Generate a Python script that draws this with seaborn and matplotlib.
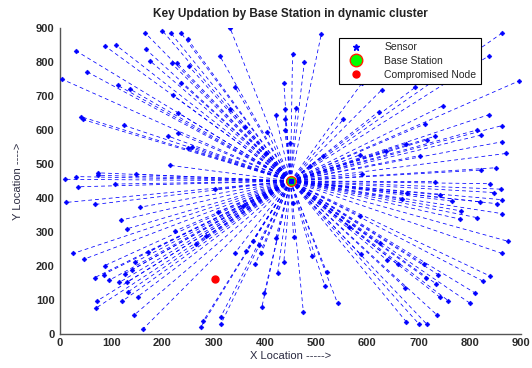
import matplotlib
matplotlib.use("Agg")
import matplotlib.pyplot as plt
from matplotlib.lines import Line2D
import seaborn as sns
import pandas as pd

# ---- data ----
bs_x, bs_y = 450, 450
comp_x, comp_y = 302, 163

sensor_x = [3, 31, 87, 109, 53, 166, 200, 216, 236, 249, 332, 168, 176, 218, 228, 251, 312, 454,
            113, 137, 236, 342, 437, 220, 41, 44, 124, 230, 231, 211, 332, 361, 421, 439, 440, 405,
            439, 449, 258, 249, 402, 215, 75, 75, 31, 148, 10,
            510, 477, 862, 837, 897, 589, 628, 693, 747, 622, 461, 553, 837, 863, 713, 814, 822,
            733, 717, 862, 676, 871, 703, 637, 513, 586, 851, 822, 590, 488,
            36, 107, 12, 68, 156, 119, 130, 225, 286, 265, 309, 303, 358, 26, 47, 171, 87, 146,
            140, 126, 68, 85, 96, 116, 130, 133, 152, 72, 70, 122, 145, 163, 280, 275, 314, 314,
            342, 363, 376, 389, 381, 393, 399, 394, 425, 437, 421, 456, 454,
            732, 840, 861, 848, 863, 854, 819, 742, 765, 667, 677, 783, 781, 815, 863, 874, 863,
            840, 825, 811, 801, 711, 738, 715, 734, 741, 758, 736, 701, 716, 676, 674, 659, 638,
            624, 587, 565, 585, 521, 517, 542, 475, 492]
sensor_y = [750, 833, 848, 850, 771, 886, 892, 886, 886, 868, 900, 837, 803, 796, 798, 789, 818, 825,
            731, 720, 739, 725, 739, 703, 639, 631, 614, 651, 590, 582, 661, 608, 643, 661, 631, 594,
            600, 563, 551, 546, 533, 496, 474, 467, 463, 470, 455,
            881, 800, 884, 818, 745, 737, 718, 725, 671, 654, 666, 631, 645, 613, 618, 600, 585,
            582, 571, 565, 560, 531, 525, 538, 524, 527, 489, 482, 470, 495,
            433, 441, 387, 381, 373, 335, 309, 303, 288, 264, 360, 426, 377, 237, 220, 240, 201, 211,
            188, 177, 166, 175, 158, 152, 152, 124, 110, 97, 76, 97, 56, 16, 39, 21, 51, 29,
            239, 244, 273, 262, 205, 237, 121, 79, 180, 211, 281, 284, 384,
            448, 442, 426, 416, 395, 383, 389, 409, 391, 397, 414, 362, 338, 342, 354, 273, 237,
            170, 156, 120, 90, 205, 175, 164, 148, 109, 98, 56, 29, 29, 36, 136, 205, 218,
            267, 234, 316, 348, 181, 142, 90, 66, 230]

x_ticks = list(range(0, 1000, 100))
y_ticks = list(range(0, 1000, 100))

title = "Key Updation by Base Station in dynamic cluster"
x_label = "X Location ----->"
y_label = "Y Location ---->"

# ---- plot ----
sns.set_style("white")
plt.rcParams["font.family"] = ["Liberation Sans", "DejaVu Sans"]

fig = plt.figure(figsize=(5.32, 3.68), dpi=100)
ax = fig.add_axes([60 / 532, (368 - 334) / 368, 461 / 532, 306 / 368])

blue = "#0000FF"
for sx, sy in zip(sensor_x, sensor_y):
    ax.plot([bs_x, sx], [bs_y, sy], linestyle=(0, (5, 4)), color=blue, lw=0.55, zorder=1)

df = pd.DataFrame({"x": sensor_x, "y": sensor_y})
sns.scatterplot(data=df, x="x", y="y", ax=ax, marker="D", s=6, color=blue,
                edgecolor=blue, linewidth=0.4, zorder=3, legend=False)

ax.plot([bs_x], [bs_y], marker="o", ms=7, mfc="#00FF00", mec="#FF2000", mew=1.0,
        linestyle="none", zorder=4)
ax.plot([bs_x], [bs_y], marker="s", ms=2.5, color=blue, linestyle="none", zorder=5)
ax.plot([comp_x], [comp_y], marker="o", ms=5, color="#FF0000", linestyle="none", zorder=4)

ax.set_xlim(0, 900)
ax.set_ylim(0, 900)
ax.set_xticks(x_ticks)
ax.set_yticks(y_ticks)
ax.tick_params(direction="in", length=4, width=0.8, colors="#555555", labelsize=8,
               labelcolor="#2a2a2a")
ax.tick_params(axis="y", pad=4)
ax.tick_params(axis="x", pad=3)
for lbl in ax.get_xticklabels() + ax.get_yticklabels():
    lbl.set_fontweight("bold")
for side in ["top", "right"]:
    ax.spines[side].set_visible(False)
for side in ["left", "bottom"]:
    ax.spines[side].set_color("#555555")
    ax.spines[side].set_linewidth(1.0)

ax.set_title(title, fontsize=8.5, fontweight="bold", color="#222222", pad=8)
ax.set_xlabel(x_label, fontsize=8, color="#2a2a40", labelpad=2)
ax.set_ylabel(y_label, fontsize=8, color="#2a2a40", labelpad=9)

handles = [
    Line2D([], [], marker="*", color=blue, ms=5, linestyle="none"),
    Line2D([], [], marker="o", ms=9, mfc="#00FF00", mec="#FF2000", mew=1.0, linestyle="none"),
    Line2D([], [], marker="o", ms=5, color="#FF0000", linestyle="none"),
]
leg = ax.legend(handles, ["Sensor", "Base Station", "Compromised Node"],
                loc="upper right", bbox_to_anchor=(0.924, 0.984), fontsize=7.5,
                frameon=True, fancybox=False, edgecolor="black", framealpha=1,
                borderpad=0.4, labelspacing=0.35, handlelength=2.5, handletextpad=1.5)
leg.get_frame().set_linewidth(0.8)
leg.set_zorder(10)

fig.savefig("out.png", dpi=100)
